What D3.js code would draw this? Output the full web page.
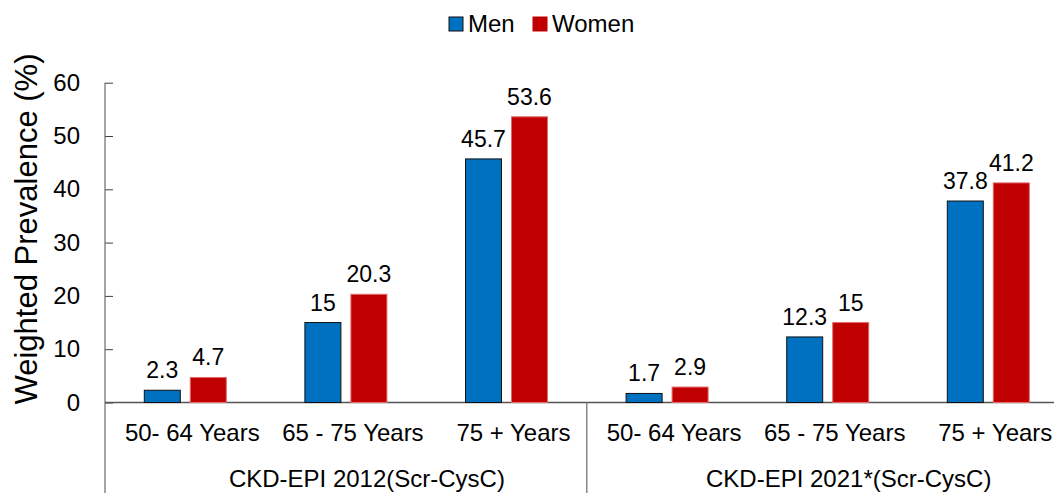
<!DOCTYPE html>
<html>
<head>
<meta charset="utf-8">
<script src="https://cdn.jsdelivr.net/npm/d3@7"></script>
<style>
  body { margin: 0; background: #fff; }
  text { font-family: "Liberation Sans", Arial, Helvetica, sans-serif; fill: #000; }
</style>
</head>
<body>
<script>
// chart data
var categories = ["50- 64 Years", "65 - 75 Years", "75 + Years", "50- 64 Years", "65 - 75 Years", "75 + Years"];
var groups = ["CKD-EPI 2012(Scr-CysC)", "CKD-EPI 2021*(Scr-CysC)"];
var series = ["Men", "Women"];
var men = [2.3, 15, 45.7, 1.7, 12.3, 37.8];
var women = [4.7, 20.3, 53.6, 2.9, 15, 41.2];
var yTicks = [0, 10, 20, 30, 40, 50, 60];
var colors = {Men: "#0070C0", Women: "#C00000"};
var strokes = {Men: "#111", Women: "#E26A6A"};

var width = 1054, height = 493;
var plotLeft = 105, plotBase = 402.5, plotTop = 82.7, catW = 160.6;

var svg = d3.select("body").append("svg")
    .attr("width", width)
    .attr("height", height);

var idx = d3.range(categories.length);
var x0 = d3.scaleBand()
    .domain(idx)
    .range([plotLeft, plotLeft + catW * idx.length])
    .padding(0);
var x1 = d3.scaleBand()
    .domain(series)
    .range([39.3, 121.3])
    .paddingInner(10 / 46);
var y = d3.scaleLinear().domain([0, 60]).range([plotBase, plotTop]);

// y axis with inward ticks
var yAxis = svg.append("g")
    .attr("transform", "translate(" + plotLeft + ",0)")
    .call(d3.axisLeft(y).tickValues(yTicks).tickSize(-8).tickPadding(25));
yAxis.select(".domain").remove();
yAxis.selectAll(".tick line").attr("stroke", "#404040");
yAxis.selectAll(".tick text")
    .style("font-size", "24px")
    .style("font-family", "'Liberation Sans', Arial, sans-serif")
    .attr("fill", "#000");

// axis lines
svg.append("line")
    .attr("x1", plotLeft).attr("x2", plotLeft)
    .attr("y1", y(60)).attr("y2", height)
    .attr("stroke", "#6a6a6a").attr("stroke-width", 1.2);
svg.append("line")
    .attr("x1", plotLeft).attr("x2", width)
    .attr("y1", plotBase).attr("y2", plotBase)
    .attr("stroke", "#555").attr("stroke-width", 1.5);
// group separators
svg.selectAll(".sep")
    .data([3, 6])
    .enter().append("line")
    .attr("x1", function(d){ return x0(0) + d * x0.bandwidth(); })
    .attr("x2", function(d){ return x0(0) + d * x0.bandwidth(); })
    .attr("y1", plotBase).attr("y2", height)
    .attr("stroke", "#6a6a6a").attr("stroke-width", 1.2);

// bars
var rows = [];
idx.forEach(function(i){
  rows.push({i: i, s: "Men", v: men[i]});
  rows.push({i: i, s: "Women", v: women[i]});
});

svg.selectAll("rect.bar")
    .data(rows)
    .enter().append("rect")
    .attr("class", "bar")
    .attr("x", function(d){ return x0(d.i) + x1(d.s); })
    .attr("width", x1.bandwidth())
    .attr("y", function(d){ return y(d.v); })
    .attr("height", function(d){ return plotBase - y(d.v); })
    .attr("fill", function(d){ return colors[d.s]; })
    .attr("stroke", function(d){ return strokes[d.s]; })
    .attr("stroke-width", 1);

// value labels
svg.selectAll("text.val")
    .data(rows)
    .enter().append("text")
    .attr("class", "val")
    .attr("x", function(d){ return x0(d.i) + x1(d.s) + x1.bandwidth() / 2; })
    .attr("y", function(d){ return y(d.v) - 12; })
    .attr("text-anchor", "middle")
    .style("font-size", "23px")
    .text(function(d){ return d.v; });

// category labels
svg.selectAll("text.cat")
    .data(idx)
    .enter().append("text")
    .attr("class", "cat")
    .attr("x", function(i){ return x0(i) + x0.bandwidth() / 2 + 7; })
    .attr("y", 441)
    .attr("text-anchor", "middle")
    .style("font-size", "24px")
    .text(function(i){ return categories[i]; });

// group labels
svg.selectAll("text.grp")
    .data(groups)
    .enter().append("text")
    .attr("class", "grp")
    .attr("x", function(d, g){ return x0(g * 3) + 1.5 * x0.bandwidth() + 21; })
    .attr("y", 487)
    .attr("text-anchor", "middle")
    .style("font-size", "24px")
    .text(function(d){ return d; });

// y title
svg.append("text")
    .attr("transform", "translate(37," + 229 + ") rotate(-90)")
    .attr("text-anchor", "middle")
    .style("font-size", "31px")
    .text("Weighted Prevalence (%)");

// legend
var legX = [449, 533];
var leg = svg.selectAll("g.leg")
    .data(series)
    .enter().append("g")
    .attr("class", "leg")
    .attr("transform", function(d, i){ return "translate(" + legX[i] + ",17)"; });
leg.append("rect")
    .attr("width", 14).attr("height", 14)
    .attr("fill", function(d){ return colors[d]; })
    .attr("stroke", function(d){ return d === "Men" ? "#111" : colors[d]; })
    .attr("stroke-width", 1);
leg.append("text")
    .attr("x", 19).attr("y", 14.5)
    .style("font-size", "24px")
    .text(function(d){ return d; });
</script>
</body>
</html>
